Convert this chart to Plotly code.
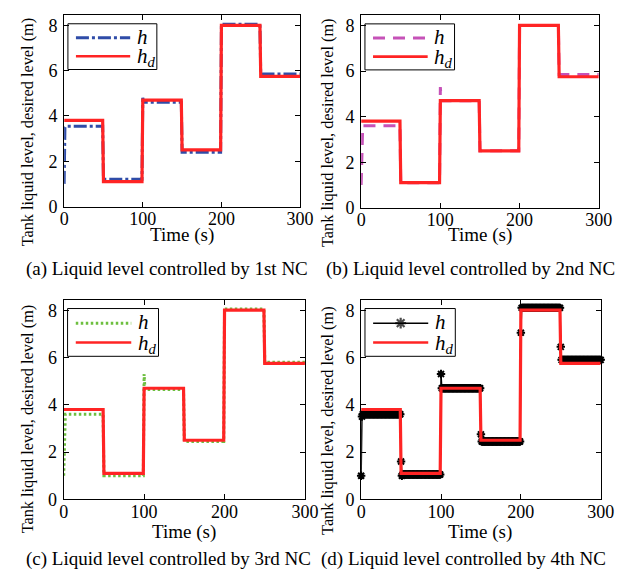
import numpy as np
import plotly.graph_objects as go

# ---------------- data ----------------
T_SWITCH = [0, 50, 100, 150, 200, 250]
T_END = 300
HD_LEVELS = [3.8, 1.1, 4.7, 2.5, 8.0, 5.75]          # desired level h_d

# actual level h: first samples of each segment (transient), then plateau
H1_TRANSIENTS = [[1.0, 3.5], [], [4.8], [], [], []]
H1_LEVELS = [3.55, 1.2, 4.6, 2.4, 8.05, 5.85]
H2_TRANSIENTS = [[1.0, 3.4], [], [5.3], [], [], []]
H2_LEVELS = [3.6, 1.1, 4.7, 2.5, 8.0, 5.85]
H3_TRANSIENTS = [[1.0, 3.4], [], [5.3], [], [], []]
H3_LEVELS = [3.6, 1.0, 4.65, 2.45, 8.05, 5.8]
H4_TRANSIENTS = [[1.0, 3.5], [1.6, 1.0], [5.3], [2.75], [7.05], [6.45]]
H4_LEVELS = [3.6, 1.05, 4.7, 2.45, 8.1, 5.9]

X_TICKS = [0, 100, 200, 300]
Y_TICKS = [0, 2, 4, 6, 8]
CAPTIONS = ["(a) Liquid level controlled by 1st NC",
            "(b) Liquid level controlled by 2nd NC",
            "(c) Liquid level controlled by 3rd NC",
            "(d) Liquid level controlled by 4th NC"]
X_TITLE = "Time (s)"
Y_TITLE = "Tank liquid level, desired level (m)"


def build(levels, transients):
    t_all, v_all = [], []
    ends = T_SWITCH[1:] + [T_END + 1]
    for start, end, lev, tr in zip(T_SWITCH, ends, levels, transients):
        ts = list(range(start, end))
        vals = list(tr) + [lev] * (len(ts) - len(tr))
        t_all += ts
        v_all += vals
    return t_all, v_all


t_hd, v_hd = build(HD_LEVELS, [[]] * 6)
series = [build(H1_LEVELS, H1_TRANSIENTS), build(H2_LEVELS, H2_TRANSIENTS),
          build(H3_LEVELS, H3_TRANSIENTS), build(H4_LEVELS, H4_TRANSIENTS)]

RED = "#FF2424"
styles = [
    dict(color="#2F4CA8", dash="13px,3px,3px,3px", width=3),
    dict(color="#C652B8", dash="12px,8px", width=3),
    dict(color="#6DBF3F", dash="2.5px,2.5px", width=3),
    dict(color="#000000", dash="solid", width=1.5),
]

# layout geometry (paper fractions)
XDOM = [[0.0837, 0.4698], [0.5698, 0.9587], [0.0830, 0.4778], [0.5698, 0.9619]]
YDOM = [[0.6505, 0.9874], [0.6483, 0.9873], [0.1349, 0.4867], [0.1349, 0.4867]]
W, H = 630, 578
YT_POS = [(15, 126), (325, 127), (15, 418), (325, 420)]
XT_POS = [(174.7, 231), (481.7, 231), (176.7, 533), (481.7, 533)]
CAP_POS = [(158.5, 266), (472, 266), (160.7, 561), (464, 561)]

FONT = "Times New Roman, Liberation Serif, Times, serif"
fig = go.Figure()

for i in range(4):
    n = i + 1
    xa = "x" if n == 1 else f"x{n}"
    ya = "y" if n == 1 else f"y{n}"
    t_h, v_h = series[i]
    st = styles[i]
    if i == 3:
        fig.add_trace(go.Scatter(x=t_h, y=v_h, xaxis=xa, yaxis=ya, mode="lines+markers",
                                 line=dict(color="black", width=1.5),
                                 marker=dict(symbol="asterisk-open", size=7,
                                             line=dict(color="black", width=2)),
                                 cliponaxis=False, showlegend=False))
    else:
        fig.add_trace(go.Scatter(x=t_h, y=v_h, xaxis=xa, yaxis=ya, mode="lines",
                                 line=dict(color=st["color"], dash=st["dash"], width=st["width"]),
                                 showlegend=False))
    fig.add_trace(go.Scatter(x=t_hd, y=v_hd, xaxis=xa, yaxis=ya, mode="lines",
                             line=dict(color=RED, width=3.2), showlegend=False))

    # legend samples on an overlay axis in [0,1] units
    ox, oy = f"x{n + 4}", f"y{n + 4}"
    if i == 3:
        fig.add_trace(go.Scatter(x=[0.05, 0.165, 0.28], y=[0.882] * 3, xaxis=ox, yaxis=oy,
                                 mode="lines+markers", line=dict(color="black", width=1.5),
                                 marker=dict(symbol="asterisk-open", size=[0, 9, 0],
                                             line=dict(color="black", width=2.2)),
                                 cliponaxis=False, showlegend=False))
    else:
        fig.add_trace(go.Scatter(x=[0.05, 0.28], y=[0.882, 0.882], xaxis=ox, yaxis=oy,
                                 mode="lines",
                                 line=dict(color=st["color"], dash=st["dash"], width=st["width"]),
                                 cliponaxis=False, showlegend=False))
    fig.add_trace(go.Scatter(x=[0.05, 0.28], y=[0.785, 0.785], xaxis=ox, yaxis=oy, mode="lines",
                             line=dict(color=RED, width=2.6), cliponaxis=False, showlegend=False))

    axis_common = dict(showline=True, linecolor="black", linewidth=1, mirror="ticks",
                       ticks="inside", ticklen=5, tickcolor="black", tickwidth=1,
                       showgrid=False, zeroline=False,
                       tickfont=dict(family=FONT, size=18, color="black"))
    xkey = "xaxis" if n == 1 else f"xaxis{n}"
    ykey = "yaxis" if n == 1 else f"yaxis{n}"
    fig.update_layout({
        xkey: dict(domain=XDOM[i], range=[0, 300], tickvals=X_TICKS, anchor=ya,
                   ticklabelstandoff=-4, **axis_common),
        ykey: dict(domain=YDOM[i], range=[0, 8.45], tickvals=Y_TICKS, anchor=xa,
                   ticklabelstandoff=2, **axis_common),
        f"xaxis{n + 4}": dict(overlaying=xa, range=[0, 1], visible=False, anchor=oy),
        f"yaxis{n + 4}": dict(overlaying=ya, range=[0, 1], visible=False, anchor=ox),
    })

    # legend box
    fig.add_shape(type="rect", xref=f"{xa} domain", yref=f"{ya} domain",
                  x0=0.016, x1=0.393, y0=0.716, y1=0.955,
                  line=dict(color="black", width=1), fillcolor="white", layer="below")
    fig.add_annotation(xref=f"{xa} domain", yref=f"{ya} domain", x=0.30, y=0.888,
                       text="<i>h</i>", showarrow=False, xanchor="left", yanchor="middle",
                       font=dict(family=FONT, size=21, color="black"))
    fig.add_annotation(xref=f"{xa} domain", yref=f"{ya} domain", x=0.30, y=0.78,
                       text="<i>h</i><sub><i>d</i></sub>", showarrow=False, xanchor="left",
                       yanchor="middle", font=dict(family=FONT, size=21, color="black"))

    # titles and caption
    yx, yy = YT_POS[i]
    fig.add_annotation(xref="paper", yref="paper", x=yx / W, y=1 - yy / H, text=Y_TITLE,
                       textangle=-90, showarrow=False, xanchor="center", yanchor="middle",
                       font=dict(family=FONT, size=16.3, color="black"))
    xx, xy = XT_POS[i]
    fig.add_annotation(xref="paper", yref="paper", x=xx / W, y=1 - xy / H, text=X_TITLE,
                       showarrow=False, xanchor="center", yanchor="middle",
                       font=dict(family=FONT, size=19, color="black"))
    cx, cy = CAP_POS[i]
    fig.add_annotation(xref="paper", yref="paper", x=cx / W, y=1 - cy / H, text=CAPTIONS[i],
                       showarrow=False, xanchor="center", yanchor="middle",
                       font=dict(family=FONT, size=19, color="black"))

fig.update_layout(width=W, height=H, margin=dict(l=0, r=0, t=0, b=0),
                  paper_bgcolor="white", plot_bgcolor="white", showlegend=False)

fig.write_html("out.html")
